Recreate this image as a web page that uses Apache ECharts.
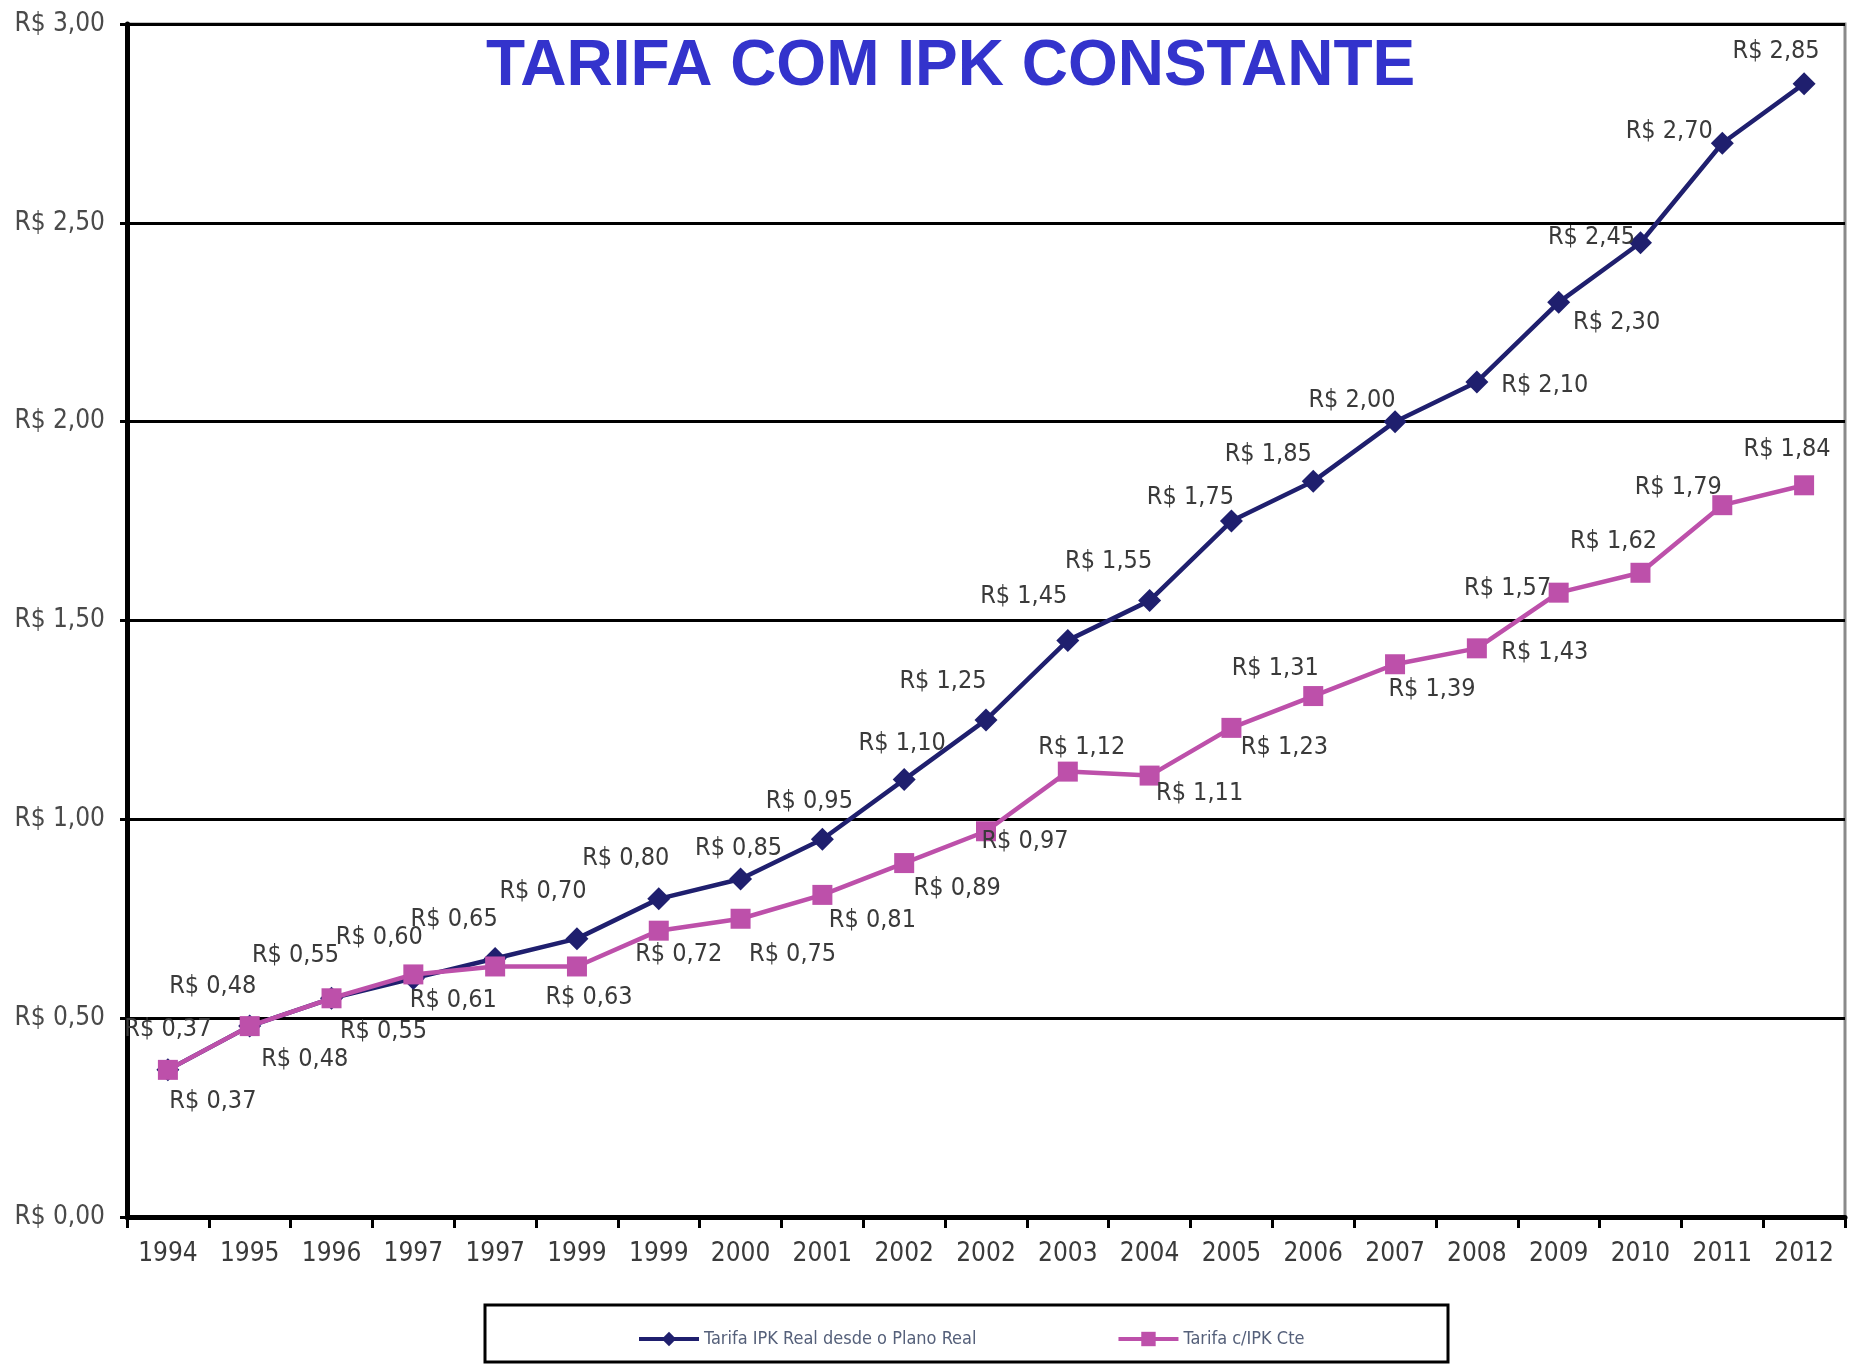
<!DOCTYPE html>
<html>
<head>
<meta charset="utf-8">
<script src="https://cdn.jsdelivr.net/npm/echarts@6/dist/echarts.min.js"></script>
<style>
  html, body { margin: 0; padding: 0; background: #fff; }
  #chart { width: 1858px; height: 1366px; }
</style>
</head>
<body>
<div id="chart"></div>
<script>
var anos = ['1994', '1995', '1996', '1997', '1997', '1999', '1999', '2000', '2001', '2002', '2002',
            '2003', '2004', '2005', '2006', '2007', '2008', '2009', '2010', '2011', '2012'];
var tarifaReal = [0.37, 0.48, 0.55, 0.60, 0.65, 0.70, 0.80, 0.85, 0.95, 1.10, 1.25,
                  1.45, 1.55, 1.75, 1.85, 2.00, 2.10, 2.30, 2.45, 2.70, 2.85];
var tarifaCte = [0.37, 0.48, 0.55, 0.61, 0.63, 0.63, 0.72, 0.75, 0.81, 0.89, 0.97,
                 1.12, 1.11, 1.23, 1.31, 1.39, 1.43, 1.57, 1.62, 1.79, 1.84];
var nomes = ['Tarifa IPK Real desde o Plano Real', 'Tarifa c/IPK Cte'];

// deslocamento dos rotulos (px) em relacao ao ponto
var offReal = [[0,-40],[-37,-40],[-36,-43],[-34,-41],[-41,-39],[-34,-47],[-33,-40],[-2,-30],[-13,-38],[-2,-36],[-43,-38],
               [-44,-44],[-41,-39],[-41,-24],[-45,-27],[-43,-21],[68,4],[58,20],[-49,-5],[-53,-12],[-28,-32]];
var offCte = [[45,32],[55,33],[52,33],[40,26],null,[12,31],[20,24],[52,36],[50,26],[53,25],[39,10],
              [14,-24],[50,18],[53,20],[-38,-28],[37,25],[68,4],[-51,-4],[-27,-31],[-44,-18],[-17,-36]];

var fonteNarrow = '"Liberation Sans Narrow", "Arial Narrow", "DejaVu Sans Condensed", sans-serif';

function reais(v) {
    return 'R$ ' + v.toFixed(2).replace('.', ',');
}

function montaPontos(vals, offs) {
    return vals.map(function (v, i) {
        var o = offs[i];
        if (!o) return { value: v, label: { show: false } };
        return { value: v, label: { offset: o } };
    });
}

var labelBase = {
    show: true,
    position: 'inside',
    fontFamily: fonteNarrow,
    fontSize: 25,
    color: '#3a3a3a',
    formatter: function (p) { return reais(p.value); }
};

var myChart = echarts.init(document.getElementById('chart'));
var option = {
    animation: false,
    backgroundColor: '#fff',
    title: {
        text: 'TARIFA COM IPK CONSTANTE',
        left: 481,
        top: 30,
        textStyle: {
            fontFamily: '"Liberation Sans", Arial, sans-serif',
            fontSize: 64,
            fontWeight: 'bold',
            color: '#3333cc'
        }
    },
    legend: {
        data: nomes,
        left: 632,
        top: 1325,
        itemGap: 140,
        itemWidth: 60,
        itemHeight: 18,
        lineStyle: { width: 4 },
        textStyle: {
            fontFamily: fonteNarrow,
            fontSize: 18,
            color: '#55607a'
        }
    },
    graphic: [{
        type: 'rect',
        shape: { x: 485, y: 1305, width: 963, height: 57 },
        style: { fill: 'none', stroke: '#000', lineWidth: 3 },
        z: -1
    }],
    grid: {
        left: 127,
        right: 13,
        top: 24,
        bottom: 149,
        show: true,
        borderColor: '#8a8a8a',
        borderWidth: 3
    },
    xAxis: {
        type: 'category',
        data: anos,
        boundaryGap: true,
        axisLine: { lineStyle: { color: '#000', width: 5 } },
        axisTick: { show: true, length: 11, lineStyle: { color: '#000', width: 3 } },
        axisLabel: {
            interval: 0,
            margin: 24,
            fontFamily: fonteNarrow,
            fontSize: 26,
            color: '#3a3a3a'
        }
    },
    yAxis: {
        type: 'value',
        min: 0,
        max: 3,
        interval: 0.5,
        axisLine: { show: true, lineStyle: { color: '#000', width: 5 } },
        axisTick: { show: true, length: 7, lineStyle: { color: '#000', width: 3 } },
        splitLine: { show: true, lineStyle: { color: '#000', width: 3 } },
        axisLabel: {
            margin: 22,
            fontFamily: fonteNarrow,
            fontSize: 26,
            color: '#4a4a4a',
            formatter: function (v) { return reais(v); }
        }
    },
    series: [
        {
            name: nomes[0],
            type: 'line',
            data: montaPontos(tarifaReal, offReal),
            symbol: 'diamond',
            symbolSize: 23,
            itemStyle: { color: '#1f1f6e' },
            lineStyle: { color: '#1f1f6e', width: 4.5 },
            label: labelBase,
            z: 3
        },
        {
            name: nomes[1],
            type: 'line',
            data: montaPontos(tarifaCte, offCte),
            symbol: 'rect',
            symbolSize: 20,
            itemStyle: { color: '#bd50aa' },
            lineStyle: { color: '#bd50aa', width: 4.5 },
            label: labelBase,
            z: 4
        }
    ]
};
myChart.setOption(option);
</script>
</body>
</html>
